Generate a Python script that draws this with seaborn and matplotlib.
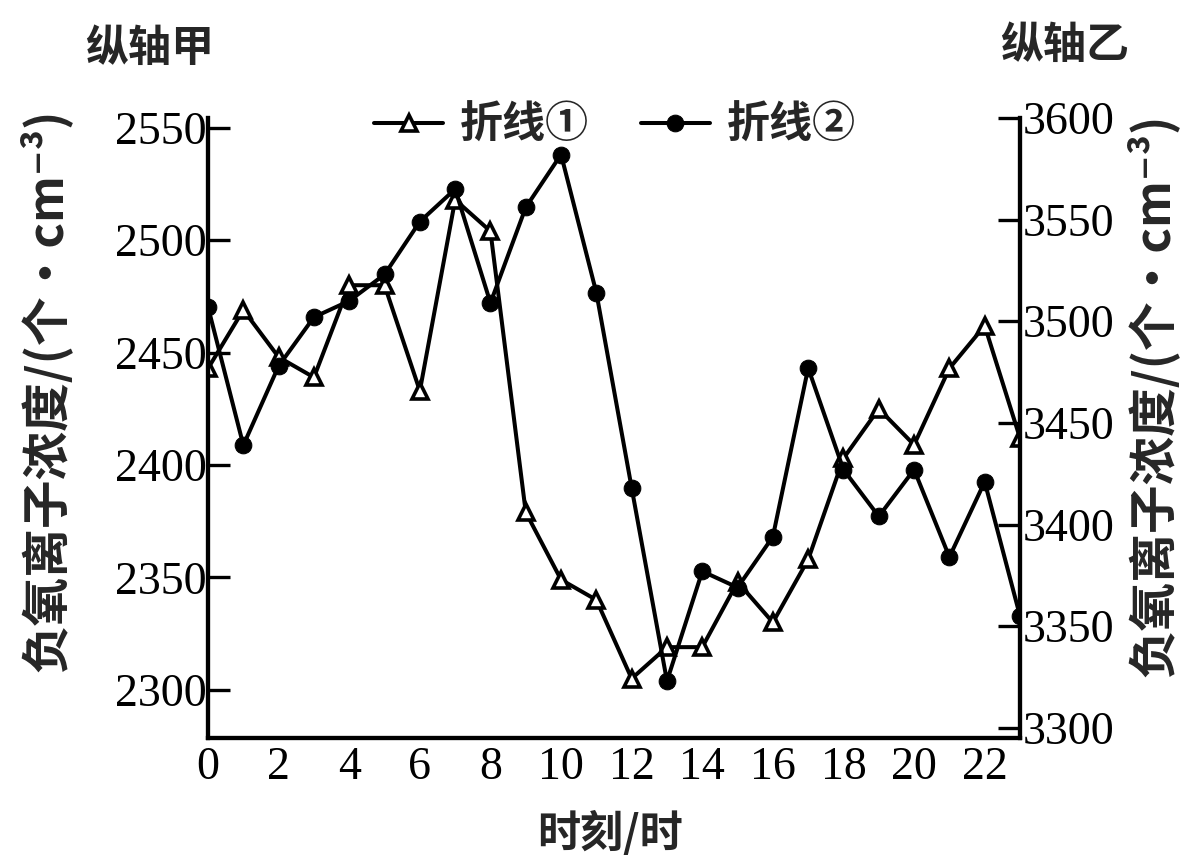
import numpy as np
import pandas as pd
import matplotlib
matplotlib.use("Agg")
import matplotlib.pyplot as plt
from matplotlib.ticker import MultipleLocator
import seaborn as sns

# Hourly negative air-ion concentration, two monitoring series
hours = list(range(24))
line1_vals = [2443, 2469, 2448, 2439, 2480, 2480, 2433, 2518, 2504, 2379, 2349, 2340,
              2305, 2319, 2319, 2348, 2330, 2358, 2403, 2425, 2409, 2443, 2462, 2412]
line2_vals = [3507, 3439, 3478, 3502, 3510, 3523, 3549, 3565, 3509, 3556, 3582, 3514,
              3418, 3323, 3377, 3369, 3394, 3477, 3427, 3404, 3427, 3384, 3421, 3355]

left_ticks = [2300, 2350, 2400, 2450, 2500, 2550]
right_ticks = [3300, 3350, 3400, 3450, 3500, 3550, 3600]
x_ticks = list(range(0, 23, 2))

line1_name = "折线①"
line2_name = "折线②"
left_axis_name = "纵轴甲"
right_axis_name = "纵轴乙"
y_label = "负氧离子浓度/(个·cm⁻³)"
x_label = "时刻/时"

sns.set_theme(style="white")
cjk = ["Noto Sans CJK SC", "DejaVu Sans"]
num_font = ["Liberation Serif", "DejaVu Serif"]
plt.rcParams["font.family"] = cjk
plt.rcParams["axes.unicode_minus"] = False

df1 = pd.DataFrame({"hour": hours, "value": line1_vals})
df2 = pd.DataFrame({"hour": hours, "value": line2_vals})

fig = plt.figure(figsize=(11.8, 8.61), dpi=100)
ax = fig.add_axes([0.1763, 0.1429, 0.6881, 0.7201])
ax2 = ax.twinx()

sns.lineplot(data=df1, x="hour", y="value", ax=ax, color="black", linewidth=2.9,
             marker="^", markersize=11, markerfacecolor="white",
             markeredgecolor="black", markeredgewidth=2.6, label=line1_name, legend=False)
sns.lineplot(data=df2, x="hour", y="value", ax=ax2, color="black", linewidth=2.9,
             marker="o", markersize=12, markerfacecolor="black",
             markeredgecolor="black", label=line2_name, legend=False)

ax.set_xlim(0, 23)
ax.set_ylim(2278.6, 2554.4)
ax2.set_ylim(3295, 3599.5)

ax.set_xticks(x_ticks)
ax.xaxis.set_minor_locator(MultipleLocator(1))
ax.set_yticks(left_ticks)
ax2.set_yticks(right_ticks)

for a in (ax, ax2):
    a.set_xlabel("")
    a.set_ylabel("")
    a.spines["top"].set_visible(False)
    for s in ("left", "right", "bottom"):
        a.spines[s].set_linewidth(3.0)
        a.spines[s].set_color("black")

ax.tick_params(axis="x", which="major", direction="in", length=12, width=2.4,
               pad=6, labelsize=33, colors="black")
ax.tick_params(axis="x", which="minor", direction="in", length=10, width=2.4,
               colors="black")
ax.tick_params(axis="y", which="major", direction="in", length=16, width=2.4,
               pad=1, labelsize=33, colors="black", left=True)
ax2.tick_params(axis="y", which="major", direction="in", length=16, width=2.4,
                pad=2, labelsize=33, colors="black", right=True)

for lab in ax.get_xticklabels() + ax.get_yticklabels() + ax2.get_yticklabels():
    lab.set_family(num_font)

# Axis captions and rotated unit labels
fig.text(150 / 1180, 1 - 48 / 861, left_axis_name, ha="center", va="center",
         fontsize=31, family=cjk, fontweight="bold")
fig.text(1065 / 1180, 1 - 45 / 861, right_axis_name, ha="center", va="center",
         fontsize=31, family=cjk, fontweight="bold")
fig.text(45 / 1180, 1 - 390 / 861, y_label, rotation=90, ha="center", va="center",
         fontsize=35, family=cjk, fontweight="bold")
fig.text(1152 / 1180, 1 - 395 / 861, y_label, rotation=90, ha="center", va="center",
         fontsize=35, family=cjk, fontweight="bold")
fig.text(610 / 1180, 1 - 833 / 861, x_label, ha="center", va="center",
         fontsize=31, family=cjk, fontweight="bold")

h1, l1 = ax.get_legend_handles_labels()
h2, l2 = ax2.get_legend_handles_labels()
fig.legend(h1 + h2, l1 + l2, loc="center", bbox_to_anchor=(615 / 1180, 1 - 125 / 861),
           ncol=2, frameon=False, handlelength=1.6, handletextpad=0.4,
           columnspacing=1.2, prop={"family": cjk, "size": 31, "weight": "bold"})

fig.savefig("out.png", dpi=100, facecolor="white")
